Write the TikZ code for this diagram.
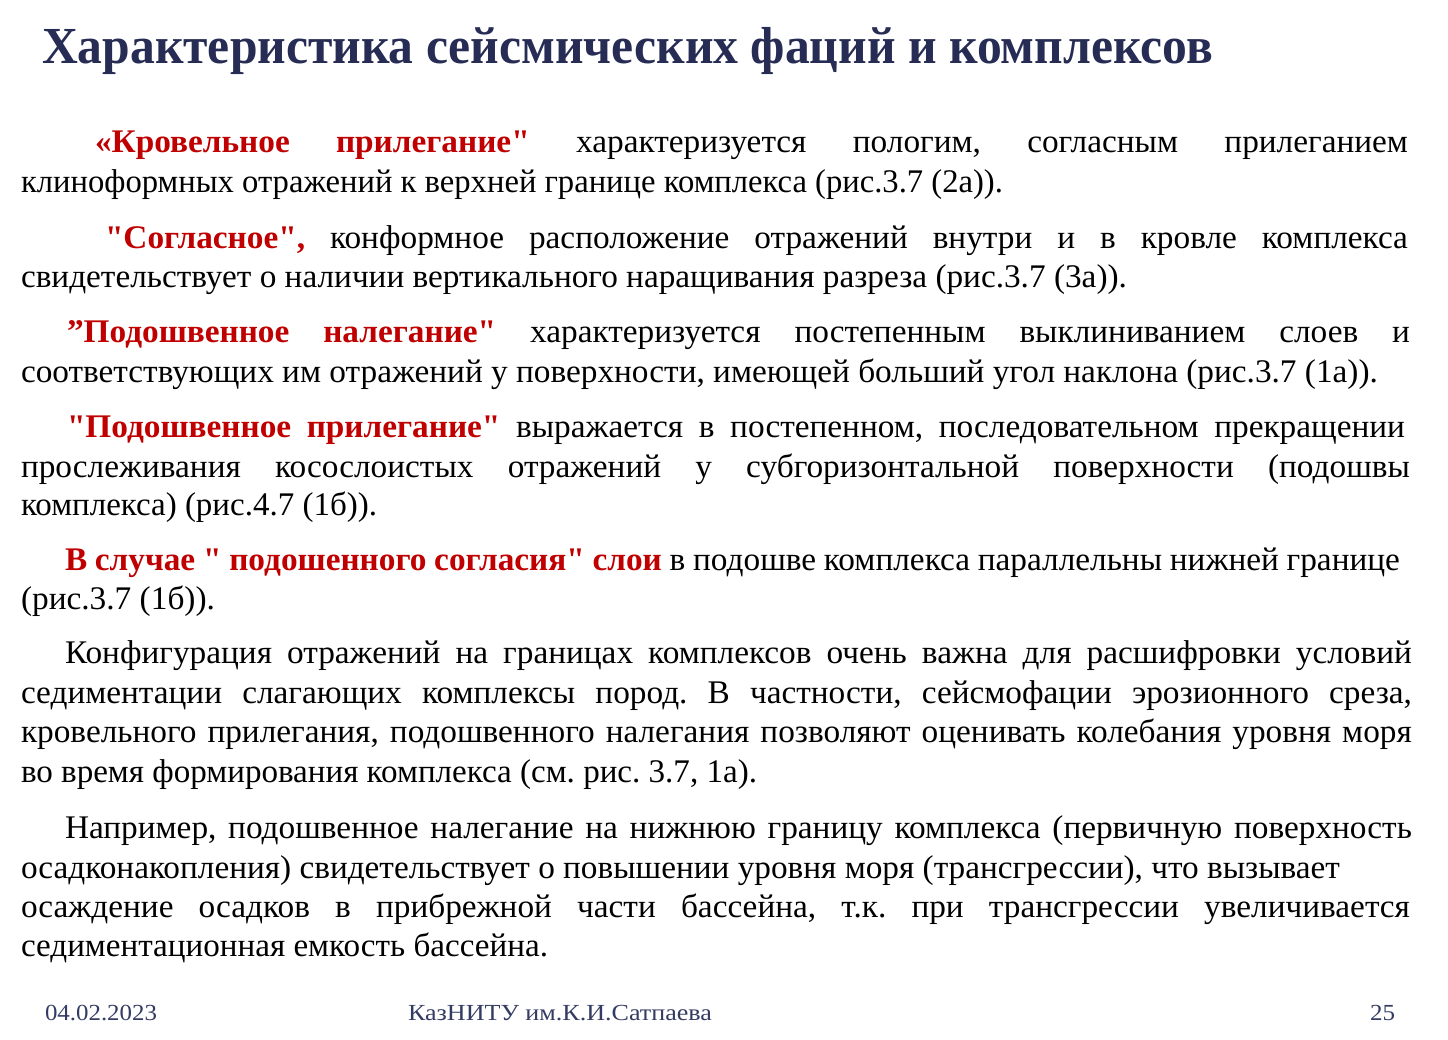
\documentclass[tikz,border=0pt]{standalone}
\usepackage{fontspec}
\setmainfont{Liberation Serif}[Ligatures=TeXOff]
\usepackage{graphicx}
\definecolor{redtxt}{RGB}{192,0,0}
\definecolor{titlecol}{RGB}{38,44,84}
\definecolor{footcol}{RGB}{52,60,100}
\newlength\wlen
\newlength\reflen
\newcommand\rb[1]{{\color{redtxt}\bfseries #1}}
\newcommand\bodyfs{\fontsize{33}{38}\selectfont}
\newcommand\jtxt[2]{%
  \pgfmathsetmacro\jw{#1/\sx}%
  \scalebox{\sx}[1]{\makebox[\jw pt][s]{#2}}}
\newcommand\ntxt[2]{%
  \settowidth\wlen{#2}%
  \pgfmathsetmacro\nf{#1/\wlen}%
  \scalebox{\nf}[1]{#2}}
\tikzset{
  body/.style={anchor=base west, inner sep=0pt, outer sep=0pt, font=\bodyfs, text=black},
  titletxt/.style={anchor=base west, inner sep=0pt, outer sep=0pt, font=\fontsize{52}{60}\selectfont\bfseries, text=titlecol},
  foot/.style={anchor=base west, inner sep=0pt, outer sep=0pt, font=\fontsize{23}{26}\selectfont, text=footcol}
}
\begin{document}
\frenchspacing
\settowidth\reflen{\bodyfs соответствующих им отражений у поверхности, имеющей больший угол наклона (рис.3.7 (1а)).}%
\pgfmathsetmacro\sx{1357/\reflen}%
\begin{tikzpicture}[x=1pt,y=-1pt]
\useasboundingbox (0,0) rectangle (1448,1039);
\fill[white] (0,0) rectangle (1448,1039);

\node[titletxt] (title) at (42,63) {\ntxt{1171}{Характеристика сейсмических фаций и комплексов}};

\node[body] (l1) at (95,152) {\jtxt{1313}{\rb{«Кровельное прилегание"} характеризуется пологим, согласным прилеганием}};
\node[body] (l2) at (21,192) {\ntxt{982}{клиноформных отражений к верхней границе комплекса (рис.3.7 (2а)).}};

\node[body] (l3) at (105,248) {\jtxt{1303}{\rb{"Согласное",} конформное расположение отражений внутри и в кровле комплекса}};
\node[body] (l4) at (21,287) {\ntxt{1106}{свидетельствует о наличии вертикального наращивания разреза (рис.3.7 (3а)).}};

\node[body] (l5) at (67,342) {\jtxt{1343}{\rb{”Подошвенное налегание"} характеризуется постепенным выклиниванием слоев и}};
\node[body] (l6) at (21,382) {\ntxt{1357}{соответствующих им отражений у поверхности, имеющей больший угол наклона (рис.3.7 (1а)).}};

\node[body] (l7) at (67,437) {\jtxt{1338}{\rb{"Подошвенное прилегание"} выражается в постепенном, последовательном прекращении}};
\node[body] (l8) at (21,477) {\jtxt{1389}{прослеживания косослоистых отражений у субгоризонтальной поверхности (подошвы}};
\node[body] (l9) at (21,515) {\ntxt{356}{комплекса) (рис.4.7 (1б)).}};

\node[body] (l10) at (65,570) {\jtxt{1335}{\rb{В случае " подошенного согласия" слои} в подошве комплекса параллельны нижней границе}};
\node[body] (l11) at (21,609) {\ntxt{194}{(рис.3.7 (1б)).}};

\node[body] (l12) at (65,663) {\jtxt{1347}{Конфигурация отражений на границах комплексов очень важна для расшифровки условий}};
\node[body] (l13) at (21,703) {\jtxt{1391}{седиментации слагающих комплексы пород. В частности, сейсмофации эрозионного среза,}};
\node[body] (l14) at (21,742) {\jtxt{1391}{кровельного прилегания, подошвенного налегания позволяют оценивать колебания уровня моря}};
\node[body] (l15) at (21,782) {\ntxt{736}{во время формирования комплекса (см. рис. 3.7, 1а).}};

\node[body] (l16) at (65,838) {\jtxt{1347}{Например, подошвенное налегание на нижнюю границу комплекса (первичную поверхность}};
\node[body] (l17) at (21,878) {\ntxt{1319}{осадконакопления) свидетельствует о повышении уровня моря (трансгрессии), что вызывает}};
\node[body] (l18) at (21,917) {\jtxt{1389}{осаждение осадков в прибрежной части бассейна, т.к. при трансгрессии увеличивается}};
\node[body] (l19) at (21,956) {\ntxt{527}{седиментационная емкость бассейна.}};

\node[foot] (date) at (45,1020) {\ntxt{112}{04.02.2023}};
\node[foot] (org) at (408,1020) {\ntxt{304}{КазНИТУ им.К.И.Сатпаева}};
\node[foot] (page) at (1370,1020) {\ntxt{25}{25}};
\end{tikzpicture}
\end{document}
